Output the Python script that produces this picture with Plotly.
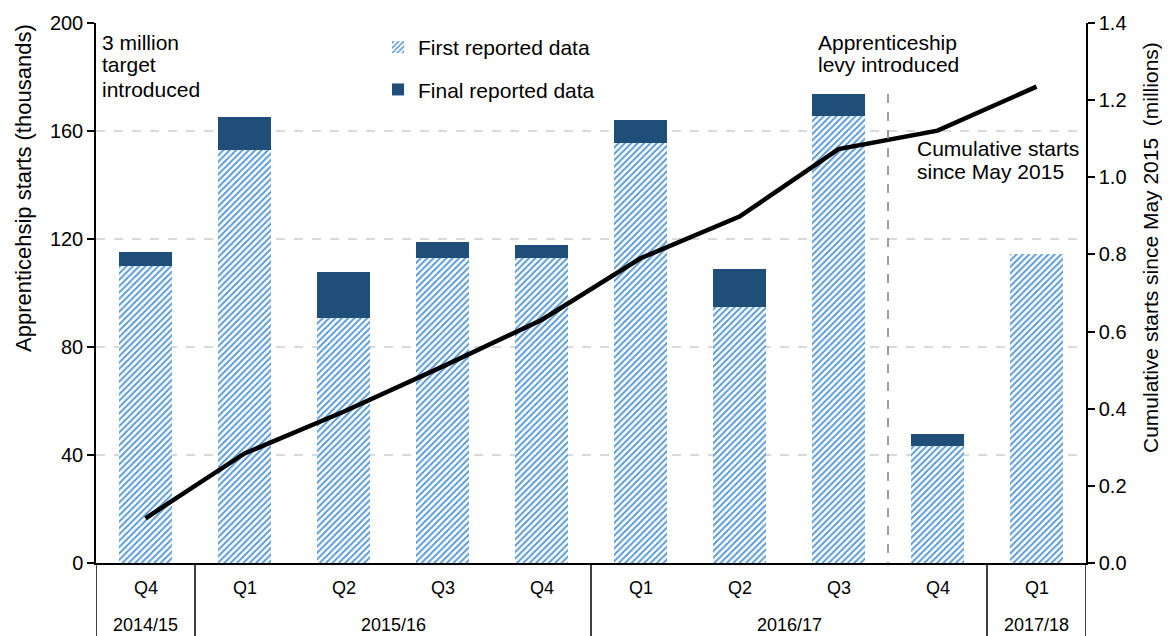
import plotly.graph_objects as go

years = ["2014/15", "2015/16", "2015/16", "2015/16", "2015/16",
         "2016/17", "2016/17", "2016/17", "2016/17", "2017/18"]
quarters = ["Q4", "Q1", "Q2", "Q3", "Q4", "Q1", "Q2", "Q3", "Q4", "Q1"]
first_reported = [110, 153, 90.7, 113, 113, 155.7, 95, 165.7, 43.3, 114.4]
final_reported = [115.2, 165.2, 107.8, 118.9, 117.8, 164.1, 108.9, 173.7, 47.8, 114.4]
cumulative = [0.116, 0.284, 0.392, 0.509, 0.630, 0.790, 0.898, 1.073, 1.121, 1.235]
left_ticks = [0, 40, 80, 120, 160, 200]
right_ticks = [0.0, 0.2, 0.4, 0.6, 0.8, 1.0, 1.2, 1.4]
levy_index = 7.5  # boundary between 2016/17 Q3 and Q4

cats = [f"{y} {q}" for y, q in zip(years, quarters)]
final_extra = [round(f - s, 2) for f, s in zip(final_reported, first_reported)]

FONT = "Liberation Sans, Arial, sans-serif"
LIGHT = "#5b9bd5"
DARK = "#1f4e79"
OFF = 8  # default page body margin
W, H = 1170 - OFF, 636 - OFF
ML, MR, MT, MB = 96 - OFF, 84, 23 - OFF, 73
PW = W - ML - MR
PH = H - MT - MB


def py(page_y):
    """page pixel row -> paper y"""
    return 1 - (page_y - OFF - MT) / PH


def px(page_x):
    """page pixel column -> paper x"""
    return (page_x - OFF - ML) / PW


fig = go.Figure()
fig.add_trace(go.Bar(
    x=cats, y=first_reported, name="First reported data",
    marker=dict(color="white", line=dict(width=0),
                pattern=dict(shape="/", fgcolor=LIGHT, bgcolor="white",
                             size=4.5, solidity=0.45, fillmode="replace")),
    legendgroup="a", yaxis="y"))
fig.add_trace(go.Bar(
    x=cats, y=final_extra, name="Final reported data",
    marker=dict(color=DARK, line=dict(width=0)),
    legendgroup="b", yaxis="y"))
fig.add_trace(go.Scatter(
    x=cats, y=cumulative, mode="lines", showlegend=False,
    line=dict(color="black", width=4.5), yaxis="y2"))

fig.update_layout(
    width=W, height=H,
    margin=dict(l=ML, r=MR, t=MT, b=MB, autoexpand=False),
    barmode="stack", bargap=0.455,
    plot_bgcolor="white", paper_bgcolor="white",
    font=dict(family=FONT, size=20, color="black"),
    showlegend=True,
    legend=dict(x=px(378), y=py(27), xanchor="left", yanchor="top",
                bgcolor="rgba(0,0,0,0)", font=dict(size=21),
                tracegroupgap=12, itemwidth=30, traceorder="grouped"),
    xaxis=dict(type="category", categoryorder="array", categoryarray=cats,
               range=[-0.5, len(cats) - 0.5],
               showline=True, linecolor="black", linewidth=1.5,
               showgrid=False, ticks="", showticklabels=False, automargin=False),
    yaxis=dict(range=[0, 200], tickvals=left_ticks,
               showline=True, linecolor="black", linewidth=1.5,
               ticks="outside", ticklen=7, tickcolor="black", tickwidth=1.5,
               showgrid=True, gridcolor="#d9d9d9", griddash="dash", gridwidth=1.5,
               zeroline=False, tickfont=dict(size=20), automargin=False),
    yaxis2=dict(range=[0, 1.4], tickvals=right_ticks,
                tickformat=".1f", overlaying="y", side="right",
                showline=True, linecolor="black", linewidth=1.5,
                ticks="outside", ticklen=7, tickcolor="black", tickwidth=1.5,
                showgrid=False, zeroline=False, tickfont=dict(size=20), automargin=False),
)

# axis titles
fig.add_annotation(xref="paper", yref="paper", x=px(23), y=py(188),
                   text="Apprenticehsip starts (thousands)", textangle=-90,
                   showarrow=False, font=dict(size=22), xanchor="center", yanchor="middle")
fig.add_annotation(xref="paper", yref="paper", x=px(1150), y=py(248),
                   text="Cumulative starts since May 2015  (millions)", textangle=-90,
                   showarrow=False, font=dict(size=21), xanchor="center", yanchor="middle")

# category labels and dividers
for c, q in zip(cats, quarters):
    fig.add_annotation(xref="x", yref="paper", x=c, y=py(588), text=q, showarrow=False,
                       font=dict(size=18), xanchor="center", yanchor="middle")
groups = []
for i, y in enumerate(years):
    if groups and groups[-1][0] == y:
        groups[-1][2] = i
    else:
        groups.append([y, i, i])
for y, s, e in groups:
    fig.add_annotation(xref="x", yref="paper", x=(s + e) / 2, y=py(625), text=y,
                       showarrow=False, font=dict(size=18), xanchor="center", yanchor="middle")
    fig.add_shape(type="line", xref="x", yref="paper", x0=s - 0.5, x1=s - 0.5,
                  y0=0, y1=py(640), line=dict(color="black", width=1.5))
fig.add_shape(type="line", xref="x", yref="paper", x0=len(cats) - 0.5, x1=len(cats) - 0.5,
              y0=0, y1=py(640), line=dict(color="black", width=1.5))

# levy line
fig.add_shape(type="line", xref="x", yref="y", x0=levy_index, x1=levy_index, y0=-3, y1=177,
              line=dict(color="#808080", width=1.5, dash="dash"))


def text_lines(lines, x_page, y_centers):
    for t, yc in zip(lines, y_centers):
        fig.add_annotation(xref="paper", yref="paper", x=px(x_page), y=py(yc),
                           text=t, showarrow=False, xanchor="left", yanchor="middle",
                           font=dict(size=21))


text_lines(["3 million", "target", "introduced"], 100, [42, 65, 89])
text_lines(["Apprenticeship", "levy introduced"], 816, [42, 65])
text_lines(["Cumulative starts", "since May 2015"], 915, [148, 171])

fig.write_html("out.html")
